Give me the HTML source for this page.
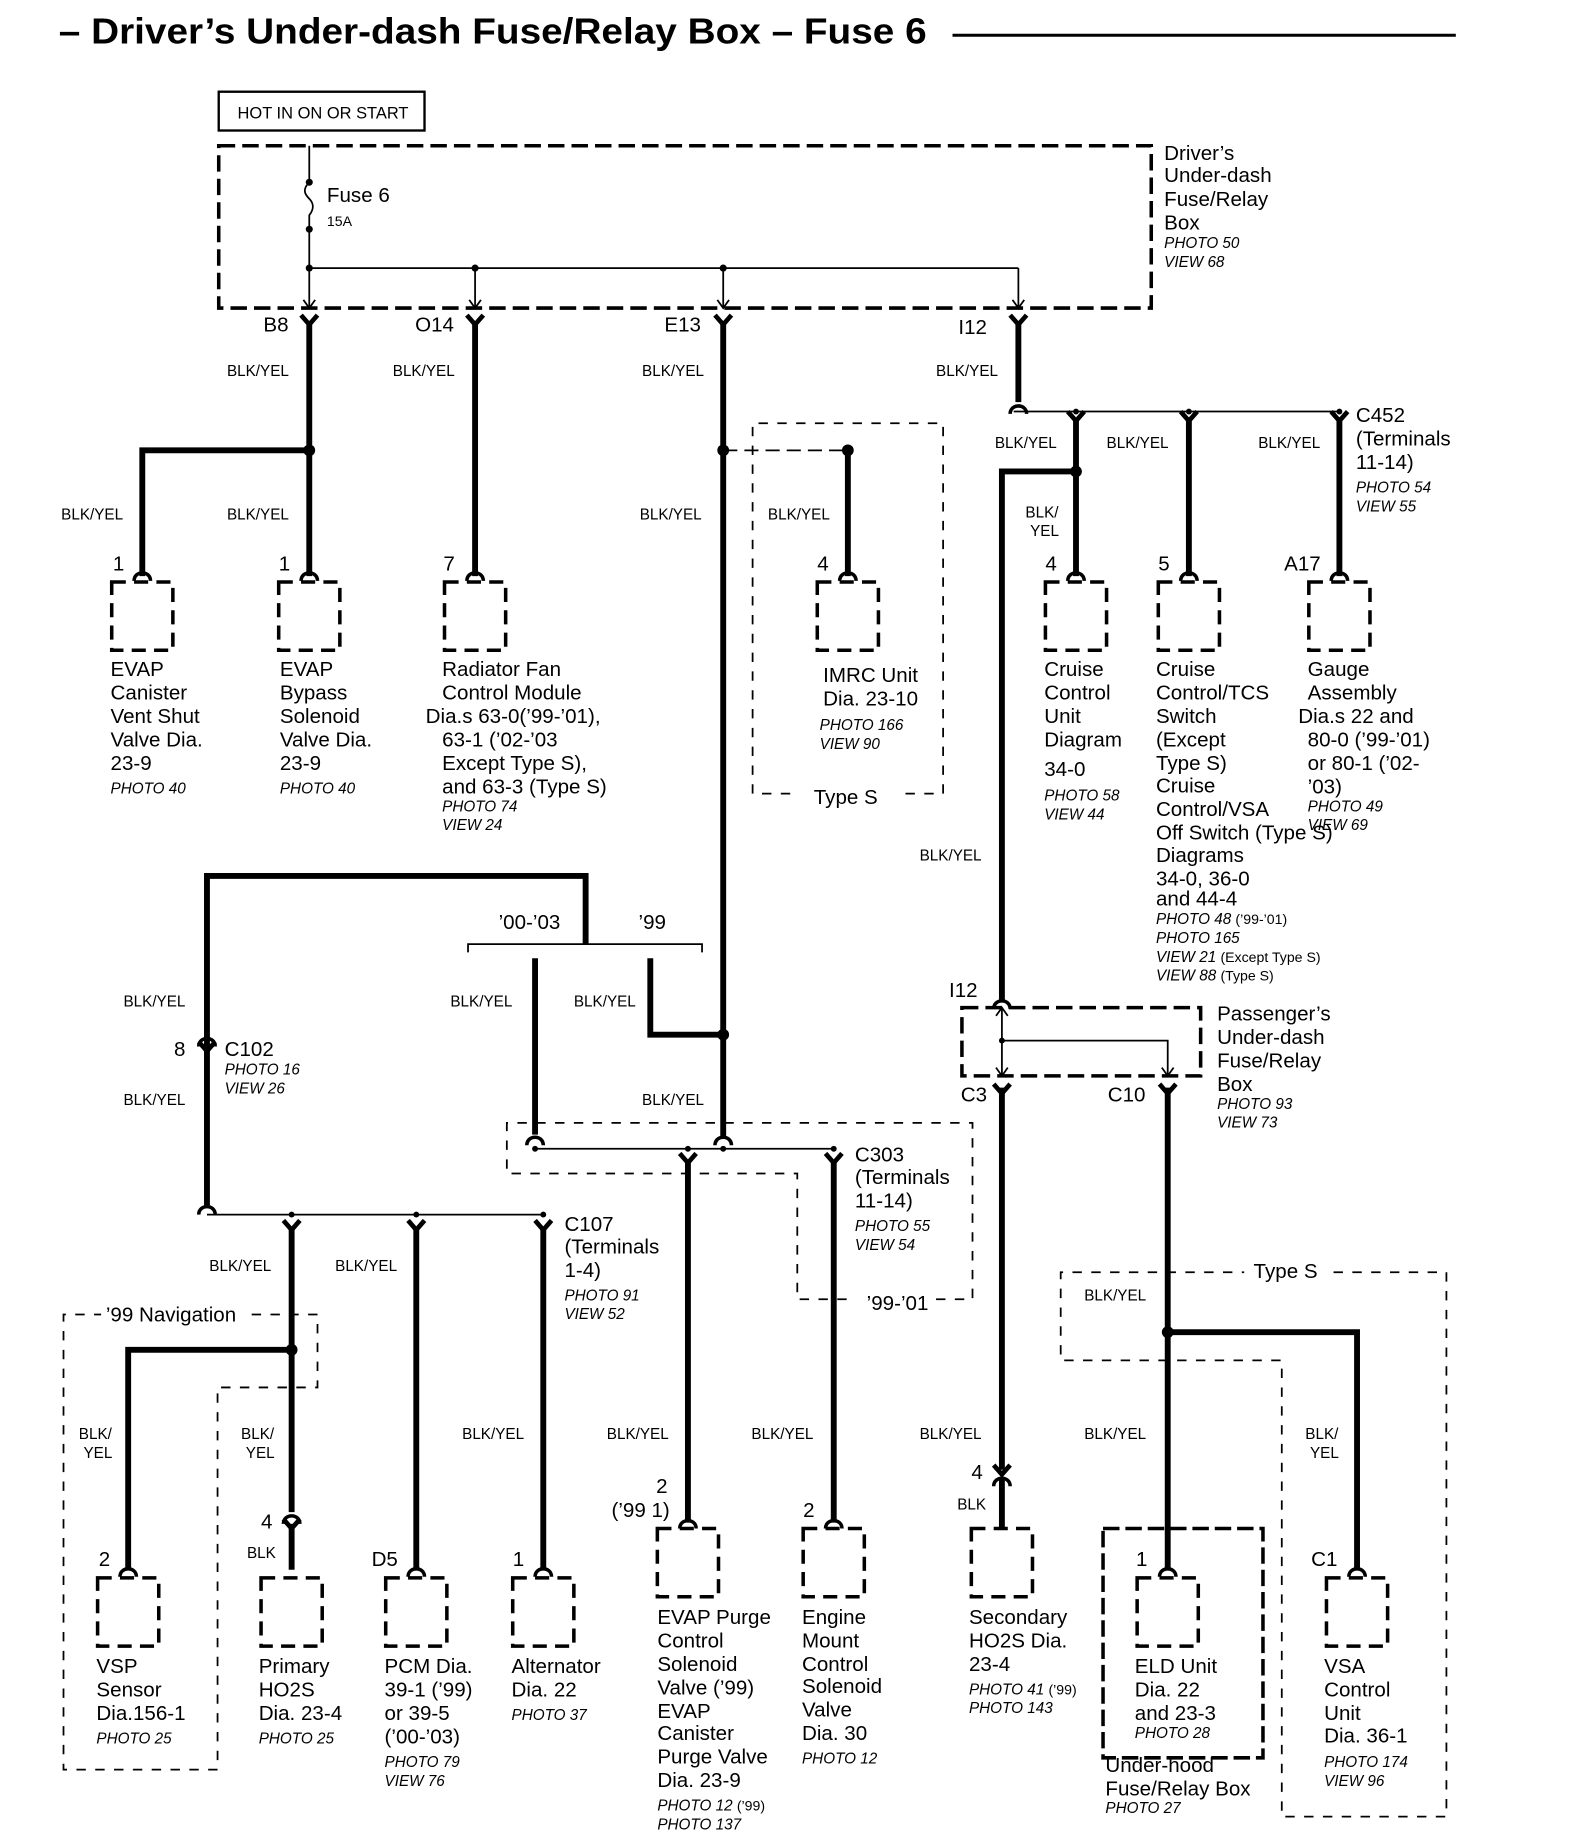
<!DOCTYPE html>
<html><head><meta charset="utf-8"><style>
html,body{margin:0;padding:0;background:#fff;}
svg{display:block}
text{font-family:"Liberation Sans",Arial,sans-serif;fill:#000}
.t{font-size:17.5px}
.w{font-size:13px}
.p{font-size:13px;font-style:italic}
</style></head><body>
<svg width="1584" height="1846" viewBox="0 0 1347 1570" preserveAspectRatio="none" xmlns="http://www.w3.org/2000/svg">
<defs>
<g id="Y"><path d="M-7,-6 L0,2 L7,-6" stroke="#000" stroke-width="4" fill="none"/></g>
<g id="V"><path d="M-5,-7 L0,0 L5,-7" stroke="#000" stroke-width="1.5" fill="none"/></g>
<g id="A"><path d="M-7,6 C-7,-3 7,-3 7,6" stroke="#000" stroke-width="3" fill="none"/></g>
<g id="BX"><rect x="-26" y="0" width="52" height="58" fill="none" stroke="#000" stroke-width="3" stroke-dasharray="12,7"/></g>
</defs>
<rect width="1360" height="1585" fill="#fff"/>
<text x="50" y="37" textLength="738" lengthAdjust="spacingAndGlyphs" style="font-size:31px;font-weight:bold">– Driver’s Under-dash Fuse/Relay Box – Fuse 6</text>
<line x1="810" y1="30" x2="1238" y2="30" stroke="#000" stroke-width="2.5"/>
<rect x="186" y="78" width="175" height="33" fill="none" stroke="#000" stroke-width="2"/>
<text x="202" y="101" style="font-size:14px">HOT IN ON OR START</text>
<rect x="186" y="124" width="793" height="138" fill="none" stroke="#000" stroke-width="3" stroke-dasharray="14,6"/>
<text class="t" x="990" y="136">Driver’s</text><text class="t" x="990" y="155">Under-dash</text><text class="t" x="990" y="175">Fuse/Relay</text><text class="t" x="990" y="195">Box</text>
<text class="p" x="990" y="211">PHOTO 50</text><text class="p" x="990" y="227">VIEW 68</text>
<g stroke="#000" fill="none" stroke-width="1.5">
<line x1="263" y1="124" x2="263" y2="155"/>
<path d="M263,155 c-6,6 -4,10 0,14 c4,4 4,9 -0,14 L263,195"/>
<line x1="263" y1="195" x2="263" y2="262"/>
<line x1="263" y1="228" x2="866" y2="228"/>
<line x1="404" y1="228" x2="404" y2="262"/>
<line x1="615" y1="228" x2="615" y2="262"/>
<line x1="866" y1="228" x2="866" y2="262"/>
</g>
<g fill="#000"><circle cx="263" cy="155" r="3"/><circle cx="263" cy="195" r="3"/><circle cx="263" cy="228" r="3"/><circle cx="404" cy="228" r="3"/><circle cx="615" cy="228" r="3"/></g>
<text class="t" x="278" y="172">Fuse 6</text><text style="font-size:12px" x="278" y="192">15A</text>
<use href="#V" x="263" y="262"/><use href="#V" x="404" y="262"/><use href="#V" x="615" y="262"/><use href="#V" x="866" y="262"/>
<use href="#Y" x="263" y="274"/><use href="#Y" x="404" y="274"/><use href="#Y" x="615" y="274"/><use href="#Y" x="866" y="274"/>
<text class="t" x="224" y="282">B8</text><text class="t" x="353" y="282">O14</text><text class="t" x="565" y="282">E13</text><text class="t" x="815" y="284">I12</text>
<g stroke="#000" stroke-width="5" fill="none">
<line x1="263" y1="274" x2="263" y2="490"/>
<polyline points="263,383 121,383 121,490"/>
<line x1="404" y1="274" x2="404" y2="490"/>
<line x1="615" y1="274" x2="615" y2="968"/>
<line x1="866" y1="274" x2="866" y2="342"/>
<line x1="721" y1="383" x2="721" y2="490"/>
<line x1="915" y1="355" x2="915" y2="490"/>
<line x1="1011" y1="355" x2="1011" y2="490"/>
<line x1="1139" y1="355" x2="1139" y2="490"/>
<polyline points="915,401 852,401 852,852"/>
<line x1="852" y1="925" x2="852" y2="1250"/>
<line x1="852" y1="1258" x2="852" y2="1300"/>
<line x1="993" y1="925" x2="993" y2="1335"/>
<polyline points="993,1133 1154,1133 1154,1335"/>
<polyline points="176,1025 176,745 498,745 498,803"/>
<line x1="455" y1="815" x2="455" y2="965"/>
<polyline points="553,815 553,880 615,880"/>
<line x1="585" y1="988" x2="585" y2="1295"/>
<line x1="709" y1="988" x2="709" y2="1295"/>
<line x1="248" y1="1045" x2="248" y2="1286"/>
<line x1="248" y1="1296" x2="248" y2="1335"/>
<polyline points="248,1148 109,1148 109,1335"/>
<line x1="354" y1="1045" x2="354" y2="1335"/>
<line x1="462" y1="1045" x2="462" y2="1335"/>
</g>
<g fill="#000"><circle cx="263" cy="383" r="5"/><circle cx="615" cy="383" r="5"/><circle cx="721" cy="383" r="5"/><circle cx="915" cy="401" r="5"/><circle cx="615" cy="880" r="5"/><circle cx="993" cy="1133" r="5"/><circle cx="248" cy="1148" r="5"/></g>
<g stroke="#000" stroke-width="1.5" fill="none">
<line x1="862" y1="350" x2="1139" y2="350"/>
<line x1="615" y1="383" x2="721" y2="383" stroke-dasharray="12,6"/>
<line x1="455" y1="977" x2="709" y2="977"/>
<line x1="176" y1="1033" x2="462" y2="1033"/>
<path d="M398,810 L398,803 L597,803 L597,810"/>
</g>
<use href="#A" x="866" y="346"/><use href="#Y" x="915" y="356"/><use href="#Y" x="1011" y="356"/><use href="#Y" x="1139" y="356"/>
<g fill="#000"><circle cx="915" cy="350" r="2.5"/><circle cx="1011" cy="350" r="2.5"/><circle cx="1139" cy="350" r="2.5"/><circle cx="455" cy="977" r="2.5"/><circle cx="585" cy="977" r="2.5"/><circle cx="615" cy="977" r="2.5"/><circle cx="709" cy="977" r="2.5"/><circle cx="248" cy="1033" r="2.5"/><circle cx="354" cy="1033" r="2.5"/><circle cx="462" cy="1033" r="2.5"/></g>
<g stroke="#000" stroke-width="1.5" fill="none" stroke-dasharray="8,8">
<path d="M770,675 L802,675 L802,360 L640,360 L640,675 L672,675"/>
<path d="M796,1105 L827,1105 L827,955 L431,955 L431,998 L678,998 L678,1105 L722,1105"/>
<path d="M1134,1082 L1230,1082 L1230,1545 L1090,1545 L1090,1157 L902,1157 L902,1082 L1058,1082"/>
<path d="M214,1118 L270,1118 L270,1180 L185,1180 L185,1505 L54,1505 L54,1118 L86,1118"/>
</g>
<text class="t" x="692" y="684">Type S</text>
<text class="t" x="737" y="1114">’99-’01</text>
<text class="t" x="1066" y="1087">Type S</text>
<text class="t" x="90" y="1124">’99 Navigation</text>
<text class="t" x="424" y="790">’00-’03</text><text class="t" x="543" y="790">’99</text>
<rect x="818" y="857" width="203" height="58" fill="none" stroke="#000" stroke-width="3" stroke-dasharray="14,6"/>
<g stroke="#000" stroke-width="1.5" fill="none"><line x1="852" y1="857" x2="852" y2="915"/><polyline points="852,885 993,885 993,915"/><path d="M847,864 L852,857 L857,864"/></g>
<circle cx="852" cy="885" r="2.5"/>
<use href="#V" x="852" y="915"/><use href="#V" x="993" y="915"/>
<use href="#A" x="852" y="852"/><use href="#Y" x="852" y="928"/><use href="#Y" x="993" y="928"/>
<text class="t" x="807" y="848">I12</text><text class="t" x="817" y="937">C3</text><text class="t" x="942" y="937">C10</text>
<text class="t" x="1035" y="868">Passenger’s</text><text class="t" x="1035" y="888">Under-dash</text><text class="t" x="1035" y="908">Fuse/Relay</text><text class="t" x="1035" y="928">Box</text>
<text class="p" x="1035" y="943">PHOTO 93</text><text class="p" x="1035" y="959">VIEW 73</text>
<use href="#Y" x="176" y="892"/><use href="#A" x="176" y="884"/>
<text class="t" x="148" y="898">8</text><text class="t" x="191" y="898">C102</text><text class="p" x="191" y="914">PHOTO 16</text><text class="p" x="191" y="930">VIEW 26</text>
<use href="#A" x="455" y="968"/><use href="#A" x="615" y="968"/>
<use href="#Y" x="585" y="987"/><use href="#Y" x="709" y="987"/>
<text class="t" x="727" y="988">C303</text><text class="t" x="727" y="1007">(Terminals</text><text class="t" x="727" y="1027">11-14)</text><text class="p" x="727" y="1047">PHOTO 55</text><text class="p" x="727" y="1063">VIEW 54</text>
<use href="#A" x="176" y="1027"/>
<use href="#Y" x="248" y="1044"/><use href="#Y" x="354" y="1044"/><use href="#Y" x="462" y="1044"/>
<text class="t" x="480" y="1047">C107</text><text class="t" x="480" y="1066">(Terminals</text><text class="t" x="480" y="1086">1-4)</text><text class="p" x="480" y="1106">PHOTO 91</text><text class="p" x="480" y="1122">VIEW 52</text>
<text class="t" x="1153" y="359">C452</text><text class="t" x="1153" y="379">(Terminals</text><text class="t" x="1153" y="399">11-14)</text><text class="p" x="1153" y="419">PHOTO 54</text><text class="p" x="1153" y="435">VIEW 55</text>
<use href="#A" x="248" y="1290"/><use href="#Y" x="248" y="1298"/><text class="t" x="222" y="1300">4</text><text class="w" x="210" y="1325">BLK</text>
<use href="#Y" x="852" y="1252"/><use href="#A" x="852" y="1258"/><text class="t" x="826" y="1258">4</text><text class="w" x="814" y="1284">BLK</text>
<g class="w">
<text x="193" y="320">BLK/YEL</text><text x="334" y="320">BLK/YEL</text><text x="546" y="320">BLK/YEL</text><text x="796" y="320">BLK/YEL</text>
<text x="52" y="442">BLK/YEL</text><text x="193" y="442">BLK/YEL</text><text x="544" y="442">BLK/YEL</text><text x="653" y="442">BLK/YEL</text>
<text x="846" y="381">BLK/YEL</text><text x="941" y="381">BLK/YEL</text><text x="1070" y="381">BLK/YEL</text>
<text x="872" y="440">BLK/</text><text x="876" y="456">YEL</text>
<text x="782" y="732">BLK/YEL</text>
<text x="105" y="856">BLK/YEL</text><text x="105" y="940">BLK/YEL</text><text x="383" y="856">BLK/YEL</text><text x="488" y="856">BLK/YEL</text><text x="546" y="940">BLK/YEL</text>
<text x="178" y="1081">BLK/YEL</text><text x="285" y="1081">BLK/YEL</text>
<text x="922" y="1106">BLK/YEL</text>
<text x="67" y="1224">BLK/</text><text x="71" y="1240">YEL</text><text x="205" y="1224">BLK/</text><text x="209" y="1240">YEL</text>
<text x="393" y="1224">BLK/YEL</text><text x="516" y="1224">BLK/YEL</text><text x="639" y="1224">BLK/YEL</text><text x="782" y="1224">BLK/YEL</text><text x="922" y="1224">BLK/YEL</text>
<text x="1110" y="1224">BLK/</text><text x="1114" y="1240">YEL</text>
</g>
<g>
<use href="#A" x="121" y="488"/><use href="#BX" x="121" y="495"/><text class="t" x="96" y="485">1</text>
<use href="#A" x="263" y="488"/><use href="#BX" x="263" y="495"/><text class="t" x="237" y="485">1</text>
<use href="#A" x="404" y="488"/><use href="#BX" x="404" y="495"/><text class="t" x="377" y="485">7</text>
<use href="#A" x="721" y="488"/><use href="#BX" x="721" y="495"/><text class="t" x="695" y="485">4</text>
<use href="#A" x="915" y="488"/><use href="#BX" x="915" y="495"/><text class="t" x="889" y="485">4</text>
<use href="#A" x="1011" y="488"/><use href="#BX" x="1011" y="495"/><text class="t" x="985" y="485">5</text>
<use href="#A" x="1139" y="488"/><use href="#BX" x="1139" y="495"/><text class="t" x="1092" y="485">A17</text>
</g>
<g class="t">
<text x="94" y="575">EVAP</text><text x="94" y="595">Canister</text><text x="94" y="615">Vent Shut</text><text x="94" y="635">Valve Dia.</text><text x="94" y="655">23-9</text>
<text x="238" y="575">EVAP</text><text x="238" y="595">Bypass</text><text x="238" y="615">Solenoid</text><text x="238" y="635">Valve Dia.</text><text x="238" y="655">23-9</text>
<text x="376" y="575">Radiator Fan</text><text x="376" y="595">Control Module</text><text x="362" y="615">Dia.s 63-0(’99-’01),</text><text x="376" y="635">63-1 (’02-’03</text><text x="376" y="655">Except Type S),</text><text x="376" y="675">and 63-3 (Type S)</text>
<text x="700" y="580">IMRC Unit</text><text x="700" y="600">Dia. 23-10</text>
<text x="888" y="575">Cruise</text><text x="888" y="595">Control</text><text x="888" y="615">Unit</text><text x="888" y="635">Diagram</text><text x="888" y="660">34-0</text>
<text x="983" y="575">Cruise</text><text x="983" y="595">Control/TCS</text><text x="983" y="615">Switch</text><text x="983" y="635">(Except</text><text x="983" y="655">Type S)</text><text x="983" y="674">Cruise</text><text x="983" y="694">Control/VSA</text><text x="983" y="714">Off Switch (Type S)</text><text x="983" y="733">Diagrams</text><text x="983" y="753">34-0, 36-0</text><text x="983" y="770">and 44-4</text>
<text x="1112" y="575">Gauge</text><text x="1112" y="595">Assembly</text><text x="1104" y="615">Dia.s 22 and</text><text x="1112" y="635">80-0 (’99-’01)</text><text x="1112" y="655">or 80-1 (’02-</text><text x="1112" y="675">’03)</text>
</g>
<g class="p">
<text x="94" y="675">PHOTO 40</text><text x="238" y="675">PHOTO 40</text><text x="376" y="690">PHOTO 74</text><text x="376" y="706">VIEW 24</text>
<text x="697" y="621">PHOTO 166</text><text x="697" y="637">VIEW 90</text>
<text x="888" y="681">PHOTO 58</text><text x="888" y="697">VIEW 44</text>
<text x="1112" y="690">PHOTO 49</text><text x="1112" y="706">VIEW 69</text>
<text x="983" y="786">PHOTO 48 <tspan font-style="normal" font-size="12">(’99-’01)</tspan></text><text x="983" y="802">PHOTO 165</text><text x="983" y="818">VIEW 21 <tspan font-style="normal" font-size="12">(Except Type S)</tspan></text><text x="983" y="834">VIEW 88 <tspan font-style="normal" font-size="12">(Type S)</tspan></text>
</g>
<g>
<use href="#A" x="109" y="1335"/><use href="#BX" x="109" y="1342"/><text class="t" x="84" y="1332">2</text>
<use href="#BX" x="248" y="1342"/>
<use href="#A" x="354" y="1335"/><use href="#BX" x="354" y="1342"/><text class="t" x="316" y="1332">D5</text>
<use href="#A" x="462" y="1335"/><use href="#BX" x="462" y="1342"/><text class="t" x="436" y="1332">1</text>
<use href="#A" x="585" y="1294"/><use href="#BX" x="585" y="1300"/><text class="t" x="558" y="1270">2</text><text class="t" x="520" y="1290">(’99 1)</text>
<use href="#A" x="709" y="1294"/><use href="#BX" x="709" y="1300"/><text class="t" x="683" y="1290">2</text>
<use href="#BX" x="852" y="1300"/>
<use href="#A" x="993" y="1335"/><use href="#BX" x="993" y="1342"/><text class="t" x="966" y="1332">1</text>
<use href="#A" x="1154" y="1335"/><use href="#BX" x="1154" y="1342"/><text class="t" x="1115" y="1332">C1</text>
</g>
<rect x="938" y="1300" width="136" height="195" fill="none" stroke="#000" stroke-width="3" stroke-dasharray="14,5"/>
<g class="t">
<text x="82" y="1423">VSP</text><text x="82" y="1443">Sensor</text><text x="82" y="1463">Dia.156-1</text>
<text x="220" y="1423">Primary</text><text x="220" y="1443">HO2S</text><text x="220" y="1463">Dia. 23-4</text>
<text x="327" y="1423">PCM Dia.</text><text x="327" y="1443">39-1 (’99)</text><text x="327" y="1463">  or 39-5</text><text x="327" y="1483">(’00-’03)</text>
<text x="435" y="1423">Alternator</text><text x="435" y="1443">Dia. 22</text>
<text x="559" y="1381">EVAP Purge</text><text x="559" y="1401">Control</text><text x="559" y="1421">Solenoid</text><text x="559" y="1441">Valve (’99)</text><text x="559" y="1461">EVAP</text><text x="559" y="1480">Canister</text><text x="559" y="1500">Purge Valve</text><text x="559" y="1520">Dia. 23-9</text>
<text x="682" y="1381">Engine</text><text x="682" y="1401">Mount</text><text x="682" y="1421">Control</text><text x="682" y="1440">Solenoid</text><text x="682" y="1460">Valve</text><text x="682" y="1480">Dia. 30</text>
<text x="824" y="1381">Secondary</text><text x="824" y="1401">HO2S Dia.</text><text x="824" y="1421">23-4</text>
<text x="965" y="1423">ELD Unit</text><text x="965" y="1443">Dia.    22</text><text x="965" y="1463">and 23-3</text>
<text x="940" y="1507">Under-hood</text><text x="940" y="1527">Fuse/Relay Box</text>
<text x="1126" y="1423">VSA</text><text x="1126" y="1443">Control</text><text x="1126" y="1463">Unit</text><text x="1126" y="1482">Dia. 36-1</text>
</g>
<g class="p">
<text x="82" y="1483">PHOTO 25</text><text x="220" y="1483">PHOTO 25</text><text x="327" y="1503">PHOTO 79</text><text x="327" y="1519">VIEW 76</text>
<text x="435" y="1463">PHOTO 37</text><text x="559" y="1540">PHOTO 12 <tspan font-style="normal" font-size="12">(’99)</tspan></text><text x="559" y="1556">PHOTO 137</text>
<text x="682" y="1500">PHOTO 12</text><text x="824" y="1441">PHOTO 41 <tspan font-style="normal" font-size="12">(’99)</tspan></text><text x="824" y="1457">PHOTO 143</text>
<text x="965" y="1478">PHOTO 28</text><text x="940" y="1542">PHOTO 27</text><text x="1126" y="1503">PHOTO 174</text><text x="1126" y="1519">VIEW 96</text>
</g>
</svg>
</body></html>
